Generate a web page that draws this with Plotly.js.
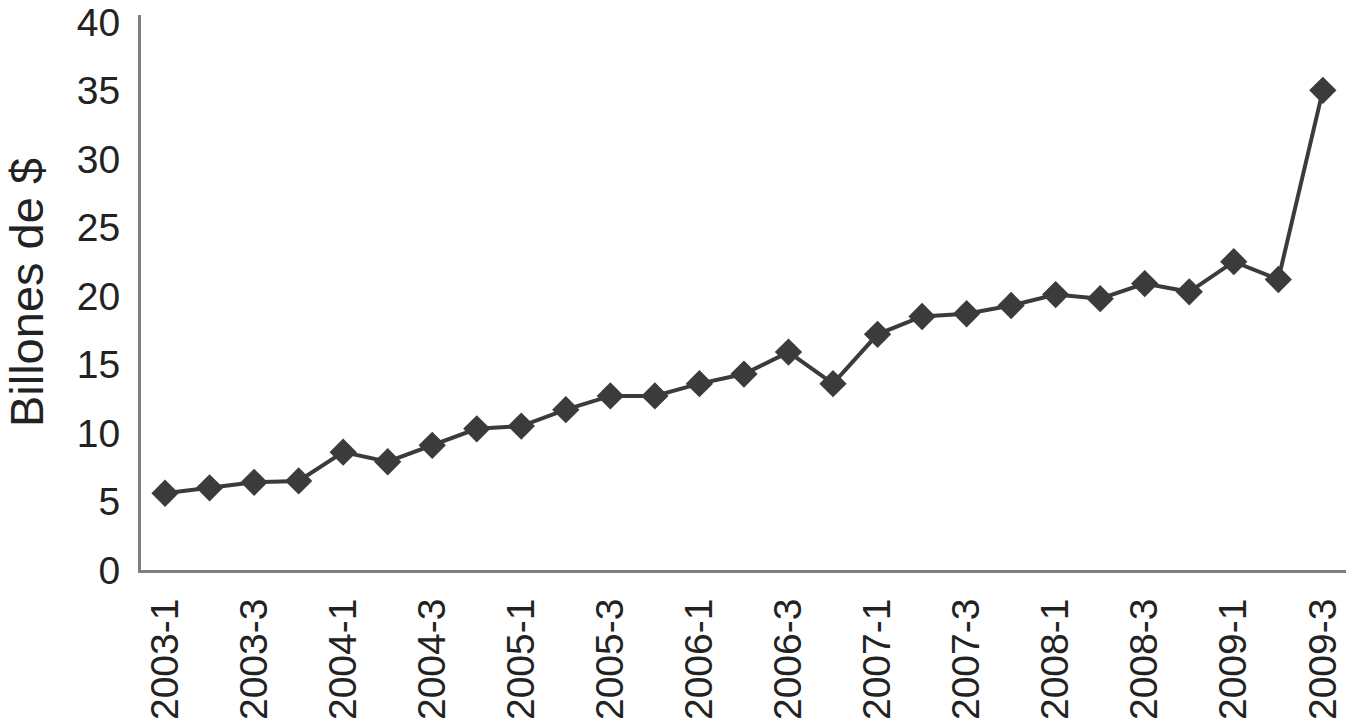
<!DOCTYPE html>
<html>
<head>
<meta charset="utf-8">
<script src="https://cdn.plot.ly/plotly-3.0.1.min.js"></script>
<style>html,body{margin:0;padding:0;background:#fff;}#chart{width:1352px;height:720px;}</style>
</head>
<body>
<div id="chart"></div>
<script>
var quarters = ["2003-1","2003-2","2003-3","2003-4","2004-1","2004-2","2004-3","2004-4",
  "2005-1","2005-2","2005-3","2005-4","2006-1","2006-2","2006-3","2006-4",
  "2007-1","2007-2","2007-3","2007-4","2008-1","2008-2","2008-3","2008-4",
  "2009-1","2009-2","2009-3"];
var values = [5.6,6.0,6.4,6.5,8.6,7.9,9.1,10.3,10.5,11.7,12.7,12.7,13.6,14.3,15.9,13.6,
  17.2,18.5,18.7,19.3,20.1,19.8,20.9,20.3,22.5,21.2,35.0];
var shownTicks = ["2003-1","2003-3","2004-1","2004-3","2005-1","2005-3","2006-1","2006-3",
  "2007-1","2007-3","2008-1","2008-3","2009-1","2009-3"];
var yTicks = [0,5,10,15,20,25,30,35,40];

var trace = {
  x: quarters, y: values, type: 'scatter', mode: 'lines+markers',
  line: {color: '#3b3b3b', width: 4},
  marker: {symbol: 'diamond', size: 21, color: '#3b3b3b'},
  hoverinfo: 'x+y'
};
var font = "'Liberation Sans', Arial, sans-serif";
var layout = {
  width: 1352, height: 720,
  margin: {l: 141, r: 6, t: 15, b: 150},
  paper_bgcolor: '#fff', plot_bgcolor: '#fff',
  showlegend: false,
  font: {family: font, color: '#222', size: 39},
  xaxis: {
    type: 'category', categoryorder: 'array', categoryarray: quarters,
    range: [-0.54, 26.52],
    tickvals: shownTicks, ticktext: shownTicks,
    tickangle: -90, ticks: '', showgrid: false, zeroline: false,
    showline: true, linecolor: '#808080', linewidth: 3,
    tickfont: {family: font, size: 39, color: '#222'},
    ticklabelstandoff: 10
  },
  yaxis: {
    range: [0, 40.5], tickvals: yTicks, ticks: '', showgrid: false, zeroline: false,
    showline: true, linecolor: '#808080', linewidth: 3,
    tickfont: {family: font, size: 39, color: '#222'},
    ticklabelstandoff: 10,
    title: {text: 'Billones de $', font: {family: font, size: 47, color: '#222'}, standoff: 28}
  }
};
Plotly.newPlot('chart', [trace], layout, {displayModeBar: false, staticPlot: true});
</script>
</body>
</html>
